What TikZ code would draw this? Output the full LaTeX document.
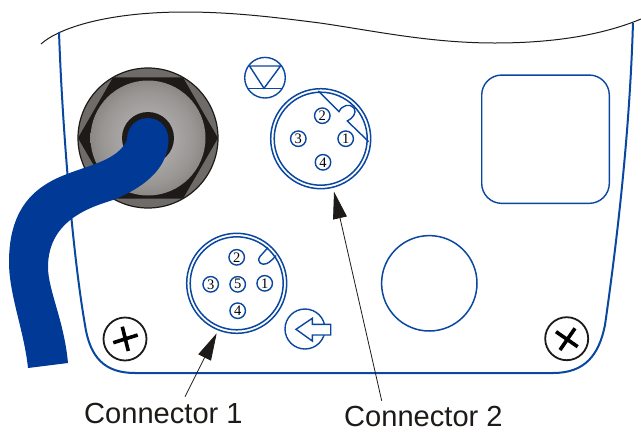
\documentclass[tikz,border=0pt]{standalone}
\usepackage{fontspec}
\setmainfont{Liberation Sans}
\newfontfamily\pinfont{Liberation Serif}
\usetikzlibrary{arrows.meta,calc}
\definecolor{panelblue}{HTML}{0A47A0}
\definecolor{cableblue}{HTML}{003A96}
\definecolor{inkblack}{HTML}{1D1A17}
\definecolor{ringgray}{HTML}{6E6B69}
\pgfdeclareradialshading{glandshade}{\pgfpointorigin}{rgb(0bp)=(.74,.73,.73); rgb(20bp)=(.60,.59,.58); rgb(38bp)=(.40,.39,.38); rgb(50bp)=(.27,.26,.25)}
\tikzset{pin/.style={circle,draw=panelblue,line width=1.4pt,fill=white,inner sep=0pt,minimum size=15.5pt,font=\pinfont\fontsize{14.5}{15}\selectfont},
sym/.style={circle,draw=panelblue,line width=1.4pt,inner sep=0pt},
ring/.style={circle,draw=panelblue,line width=1.5pt,inner sep=0pt},
screw/.style={circle,draw=inkblack,line width=1.8pt,inner sep=0pt,minimum size=43pt},
cross/.style={draw=black,line width=3.6pt},
line/.style={draw=panelblue,line width=1.4pt},
edgeline/.style={draw=panelblue,line width=2pt},
leader/.style={draw=inkblack,line width=.8pt,-{Triangle[length=27pt,width=14pt]}},
lbl/.style={inner sep=0pt,anchor=base west,text=inkblack,font=\fontsize{29.1}{30}\selectfont}}
\begin{document}
\begin{tikzpicture}[x=1pt,y=-1pt]
\useasboundingbox (0,0) rectangle (641,432);
% housing
\draw[inkblack,line width=1pt] (41,44) .. controls (60,27) and (110,12) .. (185,12) .. controls (235,12) and (280,18) .. (320,23) .. controls (375,31) and (430,43) .. (495,43) .. controls (550,43) and (600,36) .. (641,19);
\draw[edgeline] (59,32) .. controls (62,120) and (72,250) .. (85,325) .. controls (90,358) and (105,373) .. (135,373) -- (553,373) .. controls (585,373) and (599,355) .. (605,325) .. controls (620,220) and (630,120) .. (633,23);
% gland
\node[circle,draw=inkblack,line width=1.2pt,fill=ringgray,minimum size=140pt,inner sep=0pt] (gland) at (148,138) {};
\fill[inkblack] (78,138) -- (113,77.4) -- (183,77.4) -- (218,138) -- (183,198.6) -- (113,198.6) -- cycle;
\shade[shading=glandshade] (148,138) circle (57.5);
\node[circle,fill=inkblack,minimum size=52pt,inner sep=0pt] (hole) at (148,138) {};
% cable
\fill[cableblue] (127,140) .. controls (127,127) and (136,118) .. (148,118) .. controls (160,118) and (168.5,128) .. (168.5,140) .. controls (168,165) and (150,185) .. (113,200) .. controls (95,206) and (48,218) .. (48,267) .. controls (48,290) and (64,320) .. (68,363) -- (28,368) .. controls (24,330) and (9,295) .. (9,262) .. controls (9,205) and (38,185) .. (67,174) .. controls (90,165) and (118,160) .. (127,140) -- cycle;
% connector 2
\node[sym,minimum size=40.6pt] (warn) at (265,77.7) {};
\draw[line] (249.5,66) -- (280.5,66) -- (264,88.3) -- cycle;
\draw[line] (247.3,88.7) -- (282.3,88.7);
\node[ring,minimum size=100pt] (conB) at (320.7,138.7) {};
\node[ring,minimum size=93pt] (conBin) at (320.7,138.7) {};
\draw[line] (318.3,91) -- (339,111.7) .. controls (342,105) and (350,103) .. (354,108) .. controls (357,113) and (353,118) .. (347.3,121) -- (368.7,141.7);
\node[pin] (b1) at (345.7,138.7) {1};
\node[pin] (b2) at (322.3,115.7) {2};
\node[pin] (b3) at (298.3,138.7) {3};
\node[pin] (b4) at (323,162.3) {4};
% connector 1
\node[ring,minimum size=100pt] (conA) at (236.7,283.3) {};
\node[ring,minimum size=93pt] (conAin) at (236.7,283.3) {};
\draw[line] (268,247.5) -- (260,256.5) .. controls (256,262) and (262,266) .. (267,263.5) .. controls (270,262) and (273,259) .. (276,255.5);
\node[pin] (a1) at (264.7,283.3) {1};
\node[pin] (a2) at (236.7,257.3) {2};
\node[pin] (a3) at (210.7,284.3) {3};
\node[pin] (a4) at (237.7,310.7) {4};
\node[pin] (a5) at (237.7,284.3) {5};
% arrow symbol
\node[sym,minimum size=40pt] (plug) at (305,329) {};
\draw[line,fill=white] (296,329.3) -- (312.3,318.3) -- (312.3,324.3) -- (330.7,324.3) -- (330.7,335) -- (312.3,335) -- (312.3,341) -- cycle;
% window and blank
\node[draw=panelblue,line width=1.4pt,rounded corners=20pt,minimum width=127.6pt,minimum height=128.3pt,inner sep=0pt] (window) at (545.5,139.2) {};
\node[ring,minimum size=95.4pt] (blank) at (429.3,283.3) {};
% screws
\node[screw] (s1) at (125,339) {};
\draw[cross] (113.3,342.7) -- (137.7,335) (122.3,326.7) -- (128.3,351);
\node[screw] (s2) at (566.7,338.7) {};
\draw[cross] (556,331.7) -- (577.7,346.7) (575,328.3) -- (560,350);
% labels
\node[lbl] (lab1) at (84,423.5) {Connector 1};
\node[lbl] (lab2) at (344,426) {Connector 2};
\coordinate (t1) at (216.7,333.3);
\coordinate (f1) at (185,396.7);
\coordinate (t2) at (334,191.7);
\coordinate (f2) at (381.7,400.7);
\draw[leader] (f1) -- (t1);
\draw[leader] (f2) -- (t2);
\end{tikzpicture}
\end{document}
